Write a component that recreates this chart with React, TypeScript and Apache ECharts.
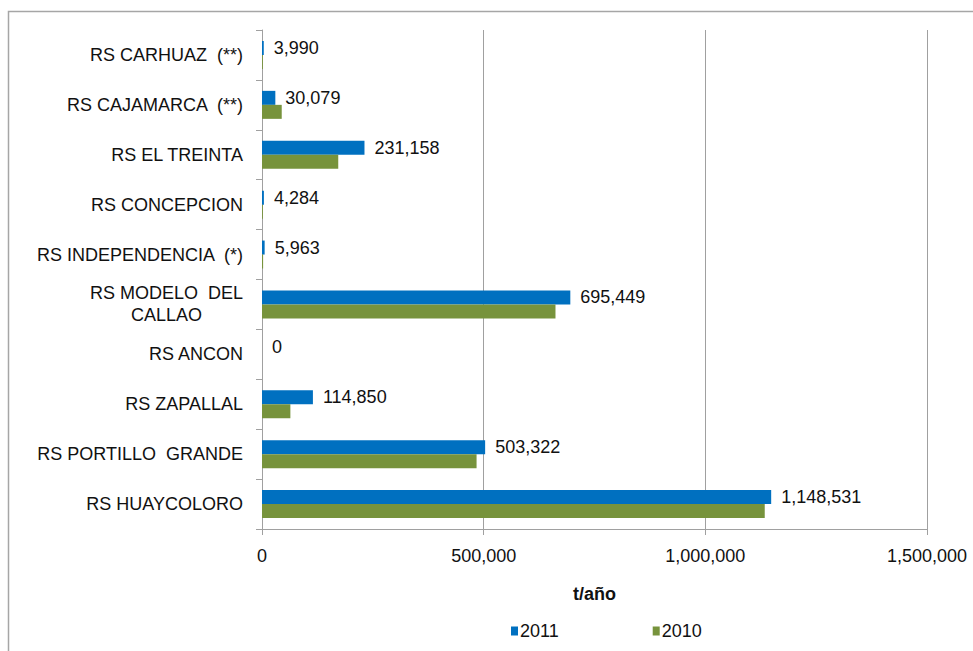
import React, { useEffect, useRef } from "react";
import * as echarts from "echarts";

// Categories listed bottom-to-top (ECharts category y axis starts at the bottom)
const categories = [
  "RS HUAYCOLORO",
  "RS PORTILLO  GRANDE",
  "RS ZAPALLAL",
  "RS ANCON",
  "RS MODELO  DEL\nCALLAO",
  "RS INDEPENDENCIA  (*)",
  "RS CONCEPCION",
  "RS EL TREINTA",
  "RS CAJAMARCA  (**)",
  "RS CARHUAZ  (**)",
];

const values2011 = [1148531, 503322, 114850, 0, 695449, 5963, 4284, 231158, 30079, 3990];
const values2010 = [1134000, 484000, 64000, 0, 662000, 2500, 2000, 172000, 44500, 2000];

const xTicks = { min: 0, max: 1500000, interval: 500000 };
const legendNames = ["2011", "2010"];

const FONT = "'Liberation Sans', Arial, sans-serif";
const FS = 18;
const fmt = (v: number) => Number(v).toLocaleString("en-US");

export default function App() {
  const ref = useRef<HTMLDivElement>(null);
  useEffect(() => {
    if (!ref.current) return;
    const chart = echarts.init(ref.current, undefined, { renderer: "svg" });
    chart.setOption({
      animation: false,
      backgroundColor: "#ffffff",
      textStyle: { fontFamily: FONT },
      graphic: [
        {
          type: "rect",
          x: 8.5,
          y: 11.5,
          shape: { width: 1000, height: 700 },
          style: { fill: "none", stroke: "#a6a6a6", lineWidth: 1.5 },
          silent: true,
        },
      ],
      grid: { left: 262, top: 30, width: 665, height: 499, containLabel: false },
      legend: {
        data: legendNames,
        left: 506,
        top: 617,
        icon: "rect",
        itemWidth: 7,
        itemHeight: 9,
        itemGap: 94,
        textStyle: { fontFamily: FONT, fontSize: FS, color: "#111", padding: [0, 0, 0, -3] },
      },
      xAxis: {
        type: "value",
        min: xTicks.min,
        max: xTicks.max,
        interval: xTicks.interval,
        name: "t/año",
        nameLocation: "middle",
        nameGap: 56,
        nameTextStyle: { fontFamily: FONT, fontSize: FS, fontWeight: "bold", color: "#111" },
        axisLine: { show: true, lineStyle: { color: "#a0a0a0", width: 1 } },
        axisTick: { show: true, length: 6, lineStyle: { color: "#a0a0a0" } },
        splitLine: { show: true, lineStyle: { color: "#a0a0a0", width: 1 } },
        axisLabel: {
          fontFamily: FONT,
          fontSize: FS,
          color: "#111",
          margin: 18,
          formatter: (v: number) => fmt(v),
        },
      },
      yAxis: {
        type: "category",
        data: categories,
        axisLine: { show: true, lineStyle: { color: "#a0a0a0", width: 1 } },
        axisTick: { show: true, length: 6, alignWithLabel: false, lineStyle: { color: "#a0a0a0" } },
        splitLine: { show: false },
        axisLabel: {
          fontFamily: FONT,
          fontSize: FS,
          color: "#111",
          margin: 19,
          lineHeight: 22,
          formatter: (v: string) => {
            const parts = v.split("\n");
            if (parts.length > 1) {
              return parts.map((p) => `{c|${p}}`).join("\n");
            }
            return `{n|${v}}`;
          },
          rich: {
            n: { fontFamily: FONT, fontSize: FS, color: "#111" },
            c: { fontFamily: FONT, fontSize: FS, color: "#111", align: "center", lineHeight: 22 },
          },
        },
      },
      series: [
        {
          name: "2011",
          type: "bar",
          data: values2011,
          barWidth: 14,
          barGap: "0%",
          itemStyle: { color: "#0070C0" },
          label: {
            show: true,
            position: "right",
            distance: 10,
            fontFamily: FONT,
            fontSize: FS,
            color: "#111",
            formatter: (p: any) => fmt(p.value),
          },
        },
        {
          name: "2010",
          type: "bar",
          data: values2010,
          barWidth: 14,
          barGap: "0%",
          itemStyle: { color: "#77933C" },
        },
      ],
    });
    return () => chart.dispose();
  }, []);
  return (
    <div
      ref={ref}
      style={{ position: "fixed", left: 0, top: 0, width: 973, height: 651, background: "#fff" }}
    />
  );
}
